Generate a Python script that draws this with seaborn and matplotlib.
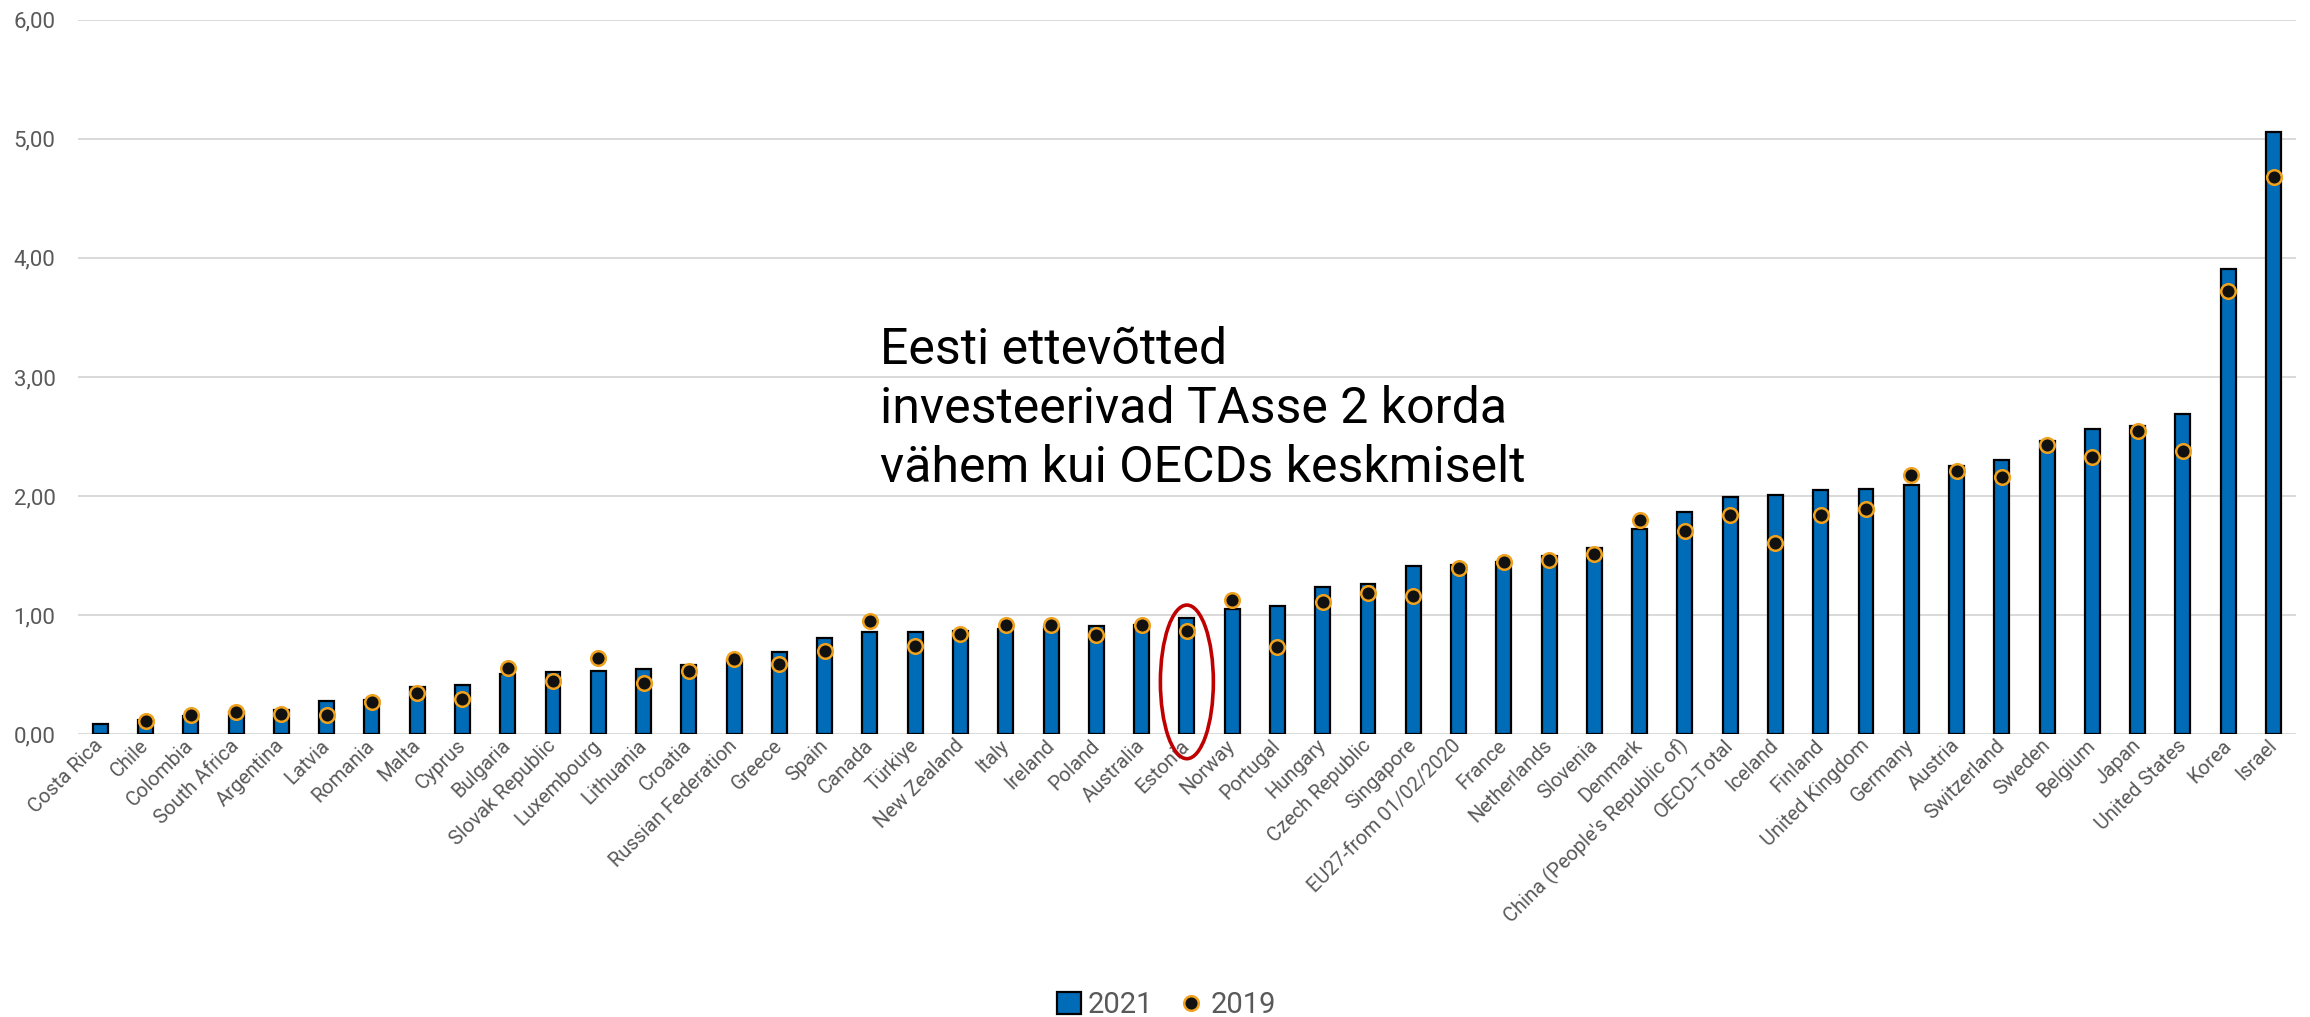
import numpy as np
import pandas as pd
import matplotlib
matplotlib.use("Agg")
import matplotlib.pyplot as plt
from matplotlib.patches import Ellipse, Patch
from matplotlib.lines import Line2D
from matplotlib.ticker import FuncFormatter
import seaborn as sns

# R&D spending by business sector, % of GDP
countries = [
    "Costa Rica", "Chile", "Colombia", "South Africa", "Argentina", "Latvia",
    "Romania", "Malta", "Cyprus", "Bulgaria", "Slovak Republic", "Luxembourg",
    "Lithuania", "Croatia", "Russian Federation", "Greece", "Spain", "Canada",
    "Türkiye", "New Zealand", "Italy", "Ireland", "Poland", "Australia",
    "Estonia", "Norway", "Portugal", "Hungary", "Czech Republic", "Singapore",
    "EU27-from 01/02/2020", "France", "Netherlands", "Slovenia", "Denmark",
    "China (People's Republic of)", "OECD-Total", "Iceland", "Finland",
    "United Kingdom", "Germany", "Austria", "Switzerland", "Sweden", "Belgium",
    "Japan", "United States", "Korea", "Israel",
]
rd_2021 = [
    0.09, 0.12, 0.15, 0.19, 0.20, 0.28, 0.29, 0.40, 0.41, 0.51,
    0.52, 0.53, 0.55, 0.58, 0.62, 0.69, 0.81, 0.86, 0.86, 0.87,
    0.88, 0.90, 0.91, 0.92, 0.98, 1.05, 1.08, 1.24, 1.26, 1.41,
    1.42, 1.45, 1.50, 1.56, 1.72, 1.87, 1.99, 2.01, 2.05, 2.06,
    2.09, 2.25, 2.30, 2.46, 2.56, 2.59, 2.69, 3.91, 5.06,
]
rd_2019 = [
    np.nan, 0.11, 0.16, 0.19, 0.17, 0.16, 0.27, 0.35, 0.30, 0.56,
    0.45, 0.64, 0.43, 0.53, 0.63, 0.59, 0.70, 0.95, 0.74, 0.84,
    0.92, 0.92, 0.83, 0.92, 0.87, 1.13, 0.73, 1.11, 1.19, 1.16,
    1.40, 1.45, 1.46, 1.51, 1.80, 1.71, 1.84, 1.61, 1.84, 1.89,
    2.18, 2.21, 2.16, 2.43, 2.33, 2.55, 2.38, 3.72, 4.68,
]
y_ticks = [0, 1, 2, 3, 4, 5, 6]
note = "Eesti ettevõtted\ninvesteerivad TAsse 2 korda\nvähem kui OECDs keskmiselt"

BAR_BLUE = "#006BB6"
DOT_FILL = "#111111"
DOT_EDGE = "#F0A21E"
GREY_TXT = "#595959"

sns.set_style("white")
plt.rcParams["font.family"] = ["Roboto", "DejaVu Sans"]

df = pd.DataFrame({"country": countries, "y2021": rd_2021, "y2019": rd_2019})

fig, ax = plt.subplots(figsize=(23.1, 10.17), dpi=100)
fig.subplots_adjust(left=0.0336, right=0.994, top=0.9806, bottom=0.278)

sns.barplot(data=df, x="country", y="y2021", color=BAR_BLUE, width=0.33,
            edgecolor="black", linewidth=1.6, saturation=1, ax=ax, zorder=3)
sns.scatterplot(data=df, x="country", y="y2019", s=110, color=DOT_FILL,
                edgecolor=DOT_EDGE, linewidth=1.8, ax=ax, zorder=4, legend=False)

ax.set_ylim(0, 6)
ax.set_xlim(-0.5, len(countries) - 0.5)
ax.set_yticks(y_ticks)
ax.yaxis.set_major_formatter(FuncFormatter(lambda v, _: f"{v:.2f}".replace(".", ",")))
ax.grid(axis="y", color="#D9D9D9", linewidth=1.4, zorder=0)
ax.set_axisbelow(True)
sns.despine(ax=ax, left=True, bottom=True)
ax.set_xlabel("")
ax.set_ylabel("")

ax.tick_params(axis="y", length=0, pad=16, labelsize=16, labelcolor=GREY_TXT)
ax.tick_params(axis="x", length=0, pad=6, labelsize=14.5, labelcolor=GREY_TXT)
for lbl in ax.get_xticklabels():
    lbl.set_rotation(45)
    lbl.set_ha("right")
    lbl.set_va("center")
    lbl.set_rotation_mode("anchor")

# red ring around Estonia
est = countries.index("Estonia")
ax.add_patch(Ellipse((est, 0.44), 1.17, 1.29, fill=False, edgecolor="#C00000",
                     linewidth=2.6, clip_on=False, zorder=6))

fig.text(0.381, 0.679, note, fontsize=36, color="black", va="top", ha="left",
         linespacing=1.28)

handles = [
    Patch(facecolor=BAR_BLUE, edgecolor="black", linewidth=1.6, label="2021"),
    Line2D([], [], marker="o", linestyle="none", markersize=10.5,
           markerfacecolor=DOT_FILL, markeredgecolor=DOT_EDGE,
           markeredgewidth=1.8, label="2019"),
]
fig.legend(handles=handles, loc="lower center", bbox_to_anchor=(0.505, -0.028),
           ncol=2, frameon=False, fontsize=21, labelcolor=GREY_TXT,
           handlelength=0.8, handleheight=0.8, handletextpad=0.25,
           columnspacing=0.9)

fig.savefig("out.png", dpi=100)
